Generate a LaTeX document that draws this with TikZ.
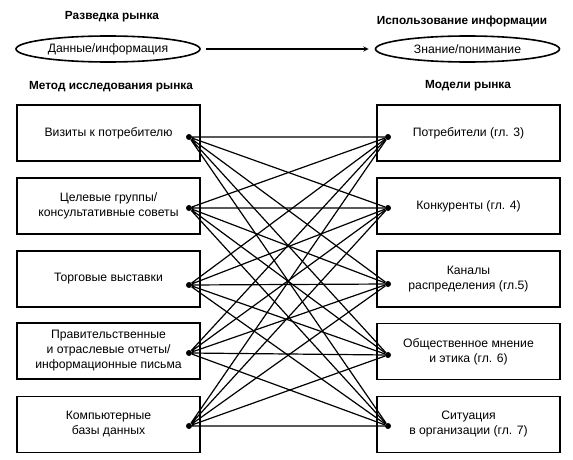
\documentclass[tikz,border=0pt]{standalone}
\usepackage{fontspec}
\setmainfont{Liberation Sans}
\usetikzlibrary{arrows}
\usetikzlibrary{shapes.geometric}

\begin{document}
\begin{tikzpicture}[>=stealth, x=1pt, y=-1pt]
  \tikzset{txt/.style={font=\fontsize{12.2}{15}\selectfont},
           head/.style={font=\fontsize{11.8}{15}\selectfont\bfseries},
           box/.style={draw, line width=1.6pt, minimum width=183pt, minimum height=56pt, inner sep=0pt, align=center, txt},
           oval/.style={ellipse, draw, line width=1.6pt, minimum width=184pt, minimum height=26pt, inner sep=0pt, txt},
           dot/.style={circle, fill, minimum size=6pt, inner sep=0pt},
           wire/.style={line width=1.2pt}}
  \useasboundingbox (0,0) rectangle (573,460);

  %--- top row ---
  \node[head] (intel) at (112,17) {Разведка рынка};
  \node[head] (usage) at (462,21) {Использование информации};
  \node[oval] (data)    at (108,49)   {Данные/информация};
  \node[oval] (insight) at (467.5,49) {Знание/понимание};
  \draw[->, line width=1.4pt, shorten <=5pt, shorten >=6pt] (data) -- (insight);

  \node[head] (method) at (111,87) {Метод исследования рынка};
  \node[head] (models) at (468,86) {Модели рынка};

  %--- research methods ---
  \node[box] (meth1) at (108.5,133) {Визиты к потребителю};
  \node[box] (meth2) at (108.5,206) {Целевые группы/\\консультативные советы};
  \node[box] (meth3) at (108.5,279) {Торговые выставки};
  \node[box] (meth4) at (108.5,351) {Правительственные\\и отраслевые отчеты/\\информационные письма};
  \node[box] (meth5) at (108.5,424.5) {Компьютерные\\базы данных};

  %--- market models ---
  \node[box] (model1) at (468.5,133) {Потребители (гл. 3)};
  \node[box] (model2) at (468.5,206) {Конкуренты (гл. 4)};
  \node[box] (model3) at (468.5,279) {Каналы\\распределения (гл.5)};
  \node[box] (model4) at (468.5,351.5) {Общественное мнение\\и этика (гл. 6)};
  \node[box] (model5) at (468.5,424.5) {Ситуация\\в организации (гл. 7)};

  %--- joints ---
  \node[dot] (a1) at (189,137) {};
  \node[dot] (a2) at (189,208) {};
  \node[dot] (a3) at (189,285) {};
  \node[dot] (a4) at (189,353) {};
  \node[dot] (a5) at (189,426) {};
  \node[dot] (b1) at (388,137) {};
  \node[dot] (b2) at (388,208) {};
  \node[dot] (b3) at (388,284) {};
  \node[dot] (b4) at (388,355) {};
  \node[dot] (b5) at (388,426) {};

  %--- every method feeds every model ---
  \draw[wire] (a1) -- (b1) (a1) -- (b2) (a1) -- (b3) (a1) -- (b4) (a1) -- (b5);
  \draw[wire] (a2) -- (b1) (a2) -- (b2) (a2) -- (b3) (a2) -- (b4) (a2) -- (b5);
  \draw[wire] (a3) -- (b1) (a3) -- (b2) (a3) -- (b3) (a3) -- (b4) (a3) -- (b5);
  \draw[wire] (a4) -- (b1) (a4) -- (b2) (a4) -- (b3) (a4) -- (b4) (a4) -- (b5);
  \draw[wire] (a5) -- (b1) (a5) -- (b2) (a5) -- (b3) (a5) -- (b4) (a5) -- (b5);
\end{tikzpicture}
\end{document}
